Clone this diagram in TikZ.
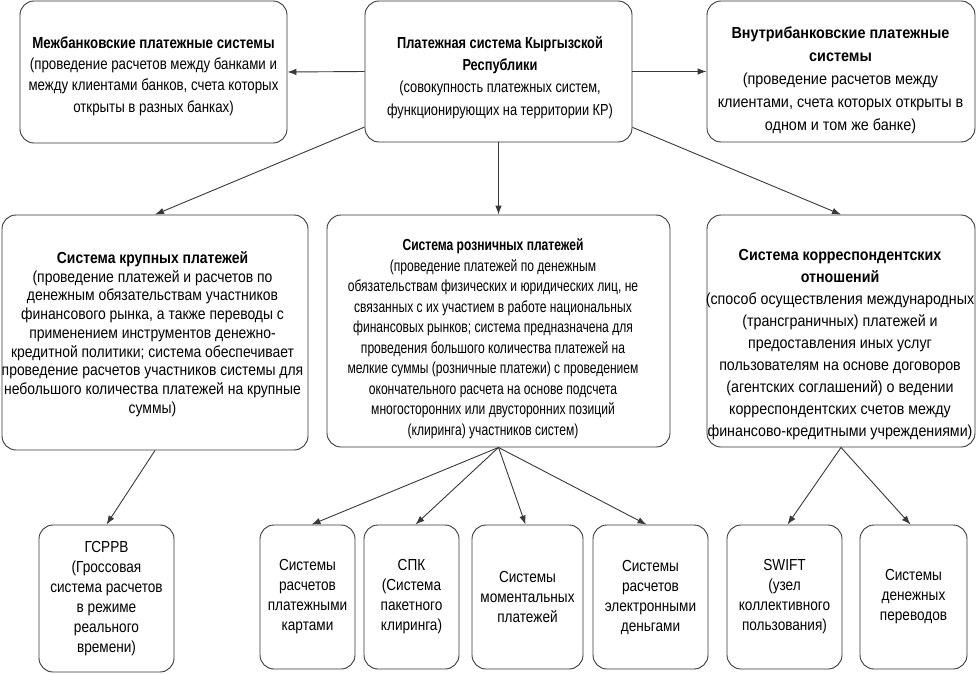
\documentclass[tikz,border=0pt]{standalone}
\usepackage{fontspec}
\setmainfont[FakeStretch=0.82]{Liberation Sans}
\newfontfamily\fA[FakeStretch=0.83]{Liberation Sans}
\newfontfamily\fB[FakeStretch=0.80]{Liberation Sans}
\newfontfamily\fC[FakeStretch=0.90]{Liberation Sans}
\newfontfamily\fD[FakeStretch=0.87]{Liberation Sans}
\newfontfamily\fE[FakeStretch=0.755]{Liberation Sans}
\newfontfamily\fF[FakeStretch=0.89]{Liberation Sans}
\newfontfamily\fG[FakeStretch=0.85]{Liberation Sans}
\usetikzlibrary{arrows.meta}
\begin{document}
\begin{tikzpicture}[x=1pt,y=-1pt,
  box/.style={draw=black!78, line width=0.9pt, rounded corners=14pt, fill=white, inner sep=0pt},
  txt/.style={align=center, inner sep=0pt},
  small/.style={box, align=center, font=\fG\fontsize{16}{20}\selectfont},
  arr/.style={-{Latex[length=9pt,width=6.5pt]}, draw=black!78, line width=0.9pt}]
\useasboundingbox (0,0) rectangle (976,674);
% top row
\node[box, minimum width=267pt, minimum height=142pt] (A) at (153.5,72) {};
\node[txt, font=\fA\fontsize{16}{21.3}\selectfont] (At) at (153.5,76)
  {\textbf{Межбанковские платежные системы}\\(проведение расчетов между банками и\\между клиентами банков, счета которых\\открыты в разных банках)};
\node[box, minimum width=267pt, minimum height=141pt] (B) at (498.5,71.5) {};
\node[txt, font=\fB\fontsize{16}{22.3}\selectfont] (Bt) at (500,77.5)
  {\textbf{Платежная система Кыргызской}\\\textbf{Республики}\\(совокупность платежных систем,\\функционирующих на территории КР)};
\node[box, minimum width=268pt, minimum height=141pt] (C) at (841,71.5) {};
\node[txt, font=\fC\fontsize{16}{23}\selectfont] (Ct) at (840.5,80)
  {\textbf{Внутрибанковские платежные}\\\textbf{системы}\\(проведение расчетов между\\клиентами, счета которых открыты в\\одном и том же банке)};
% middle row
\node[box, minimum width=306pt, minimum height=235pt] (D) at (155,332.5) {};
\node[txt, font=\fD\fontsize{16}{18.75}\selectfont] (Dt) at (152.5,334)
  {\textbf{Система крупных платежей}\\(проведение платежей и расчетов по\\денежным обязательствам участников\\финансового рынка, а также переводы с\\применением инструментов денежно-\\кредитной политики; система обеспечивает\\проведение расчетов участников системы для\\небольшого количества платежей на крупные\\суммы)};
\node[box, minimum width=343pt, minimum height=232pt] (E) at (498.5,331) {};
\node[txt, font=\fE\fontsize{16}{20.5}\selectfont] (Et) at (493,338.5)
  {\textbf{Система розничных платежей}\\(проведение платежей по денежным\\обязательствам физических и юридических лиц, не\\связанных с их участием в работе национальных\\финансовых рынков; система предназначена для\\проведения большого количества платежей на\\мелкие суммы (розничные платежи) с проведением\\окончательного расчета на основе подсчета\\многосторонних или двусторонних позиций\\(клиринга) участников систем)};
\node[box, minimum width=268pt, minimum height=232pt] (F) at (841,331) {};
\node[txt, font=\fF\fontsize{16}{22}\selectfont] (Ft) at (840,344.5)
  {\textbf{Система корреспондентских}\\\textbf{отношений}\\(способ осуществления международных\\(трансграничных) платежей и\\предоставления иных услуг\\пользователям на основе договоров\\(агентских соглашений) о ведении\\корреспондентских счетов между\\финансово-кредитными учреждениями)};
% bottom row
\node[small, minimum width=135pt, minimum height=147pt] (G) at (106.5,598.5)
  {ГСРРВ\\(Гроссовая\\система расчетов\\в режиме\\реального\\времени)};
\node[small, minimum width=95pt, minimum height=144pt] (H) at (307.5,597)
  {Системы\\расчетов\\платежными\\картами};
\node[small, minimum width=95pt, minimum height=144pt] (I) at (411.5,597)
  {СПК\\(Система\\пакетного\\клиринга)};
\node[small, minimum width=111pt, minimum height=144pt] (J) at (527.5,597)
  {Системы\\моментальных\\платежей};
\node[small, minimum width=115pt, minimum height=144pt] (K) at (650.5,597)
  {Системы\\расчетов\\электронными\\деньгами};
\node[small, minimum width=115pt, minimum height=144pt] (L) at (784.5,597)
  {SWIFT\\(узел\\коллективного\\пользования)};
\node[small, minimum width=107pt, minimum height=144pt] (M) at (913.5,597)
  {Системы\\денежных\\переводов};
% connectors
\draw[arr] (B.west) -- (A.east);
\draw[arr] (B.east) -- (C.west);
\draw[arr] (B) -- (D.north);
\draw[arr] (B.south) -- (E.north);
\draw[arr] (B) -- (F.north);
\draw[arr] (D.south) -- (G.north);
\draw[arr] (E.south) -- ([xshift=4pt]H.north);
\draw[arr] (E.south) -- ([xshift=4pt]I.north);
\draw[arr] (E.south) -- ([xshift=-2pt]J.north);
\draw[arr] (E.south) -- ([xshift=-4pt]K.north);
\draw[arr] (F.south) -- ([xshift=3pt]L.north);
\draw[arr] (F.south) -- ([xshift=-3pt]M.north);
\end{tikzpicture}
\end{document}
